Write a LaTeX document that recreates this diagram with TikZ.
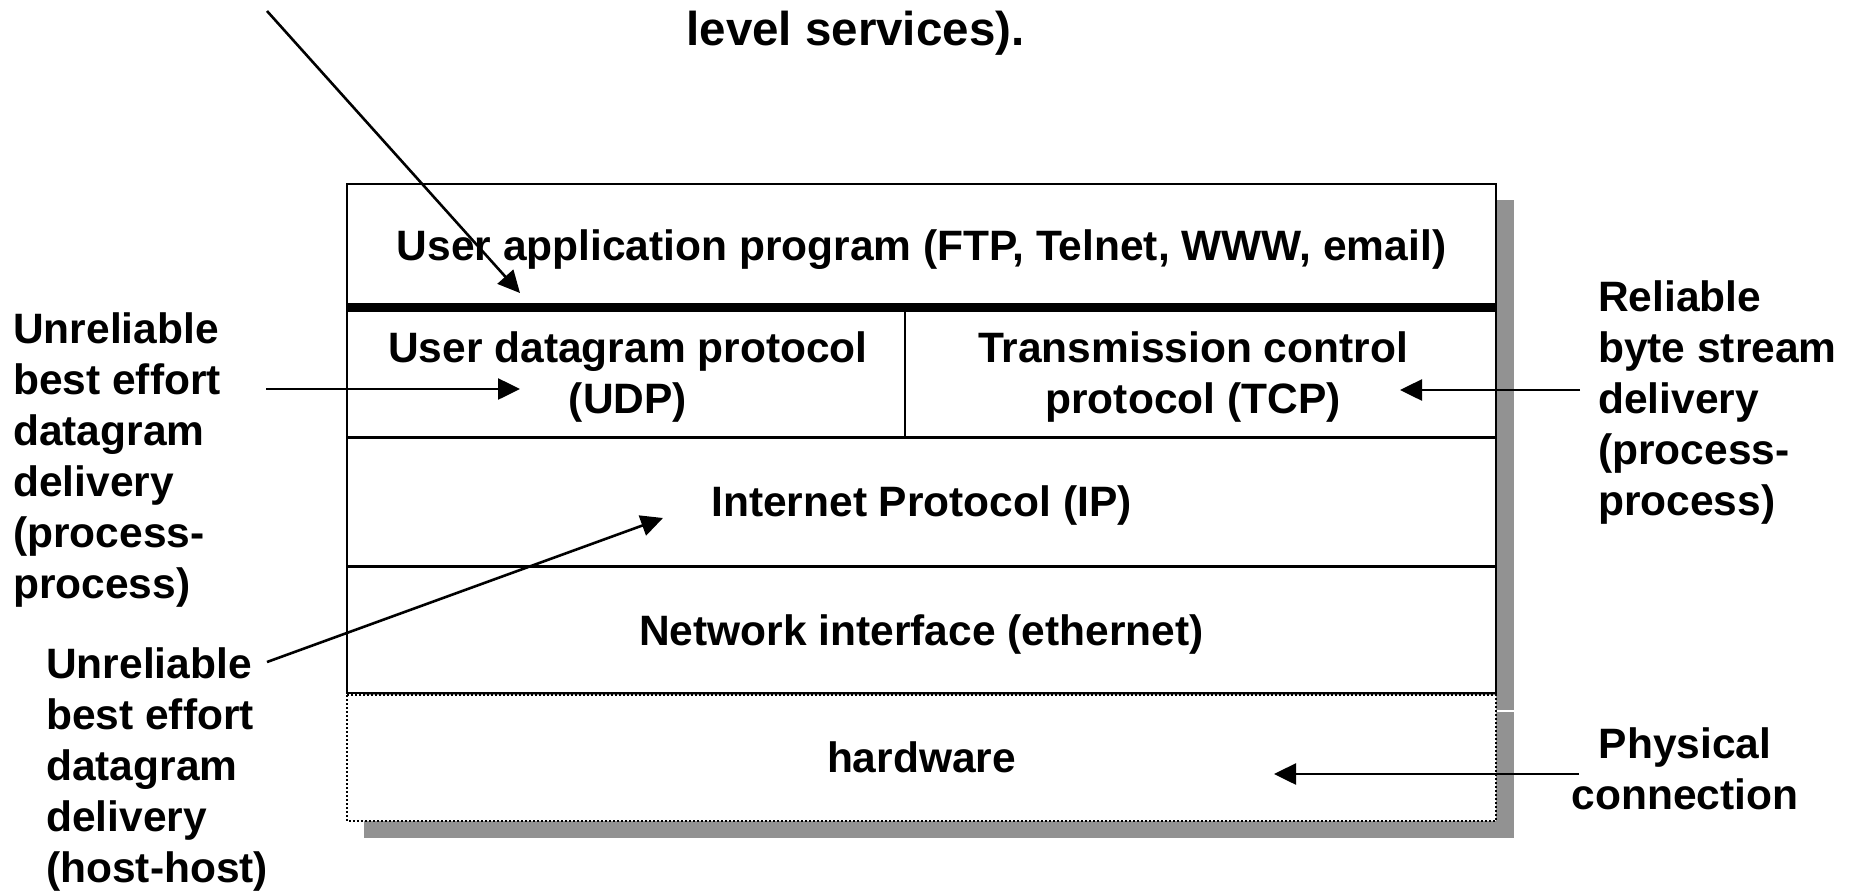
\documentclass[tikz,border=0pt]{standalone}
\usepackage{fontspec}
\setmainfont{Liberation Sans}
\usetikzlibrary{arrows.meta}
\definecolor{shadowgray}{HTML}{929292}

\begin{document}
\begin{tikzpicture}[x=1pt,y=-1pt,
  lbl/.style={inner sep=0pt, font=\fontsize{42.5}{51}\selectfont\bfseries},
  lblL/.style={lbl, align=left, anchor=base west},
  lblC/.style={lbl, align=center, anchor=base},
  arr/.style={line width=2.6pt, -{Triangle[length=22pt,width=21pt]}},
  border/.style={line width=2.5pt},
]
\useasboundingbox (0,0) rectangle (1856,892);

% drop shadows of the protocol stack and of the hardware layer
\fill[shadowgray] (364,200) rectangle (1514,710);
\fill[shadowgray] (364,711.5) rectangle (1514,838);

% protocol stack
\draw[border, fill=white] (347,184) rectangle (1496,693);
\draw[line width=9pt] (347,307) -- (1496,307);
\draw[border] (905,307) -- (905,437.5);
\draw[line width=3.5pt] (347,437.5) -- (1496,437.5);
\draw[border] (347,566.5) -- (1496,566.5);

% hardware layer
\draw[line width=2pt, dash pattern=on 2pt off 2pt, fill=white] (347,695) rectangle (1496,821);

% layer names (a multi-line node sits on the baseline of its last line)
\node[lblC] (apptxt) at (921.5,260) {User application program (FTP, Telnet, WWW, email)};
\node[lblC] (udptxt) at (628,413.7) {User datagram protocol\\(UDP)};
\node[lblC] (tcptxt) at (1193,413.7) {Transmission control\\protocol (TCP)};
\node[lblC] (iptxt) at (921.5,516) {Internet Protocol (IP)};
\node[lblC] (nettxt) at (921.5,645) {Network interface (ethernet)};
\node[lblC] (hwtxt) at (921.5,772) {hardware};

% service descriptions
\node[lbl, font=\fontsize{47.5}{56}\selectfont\bfseries, anchor=base] (captxt) at (855.5,45) {level services).};
\node[lblL] (udplbl) at (13,598) {Unreliable\\best effort\\datagram\\delivery\\(process-\\process)};
\node[lblL] (iplbl) at (46,882) {Unreliable\\best effort\\datagram\\delivery\\(host-host)};
\node[lblL] (tcplbl) at (1598,515) {Reliable\\byte stream\\delivery\\(process-\\process)};
\node[lblC] (hwlbl) at (1685,809) {Physical\\connection};

% pointers
\coordinate (capFrom) at (267,11);
\coordinate (capTo) at (520,293);
\coordinate (udpFrom) at (266,389);
\coordinate (udpTo) at (520,389);
\coordinate (tcpFrom) at (1580,390);
\coordinate (tcpTo) at (1400,390);
\coordinate (ipFrom) at (267,662);
\coordinate (ipTo) at (663,518);
\coordinate (hwFrom) at (1579,774);
\coordinate (hwTo) at (1274,774);

\draw[arr] (capFrom) -- (capTo);
\draw[arr] (udpFrom) -- (udpTo);
\draw[arr] (tcpFrom) -- (tcpTo);
\draw[arr] (ipFrom) -- (ipTo);
\draw[arr] (hwFrom) -- (hwTo);
\end{tikzpicture}
\end{document}
